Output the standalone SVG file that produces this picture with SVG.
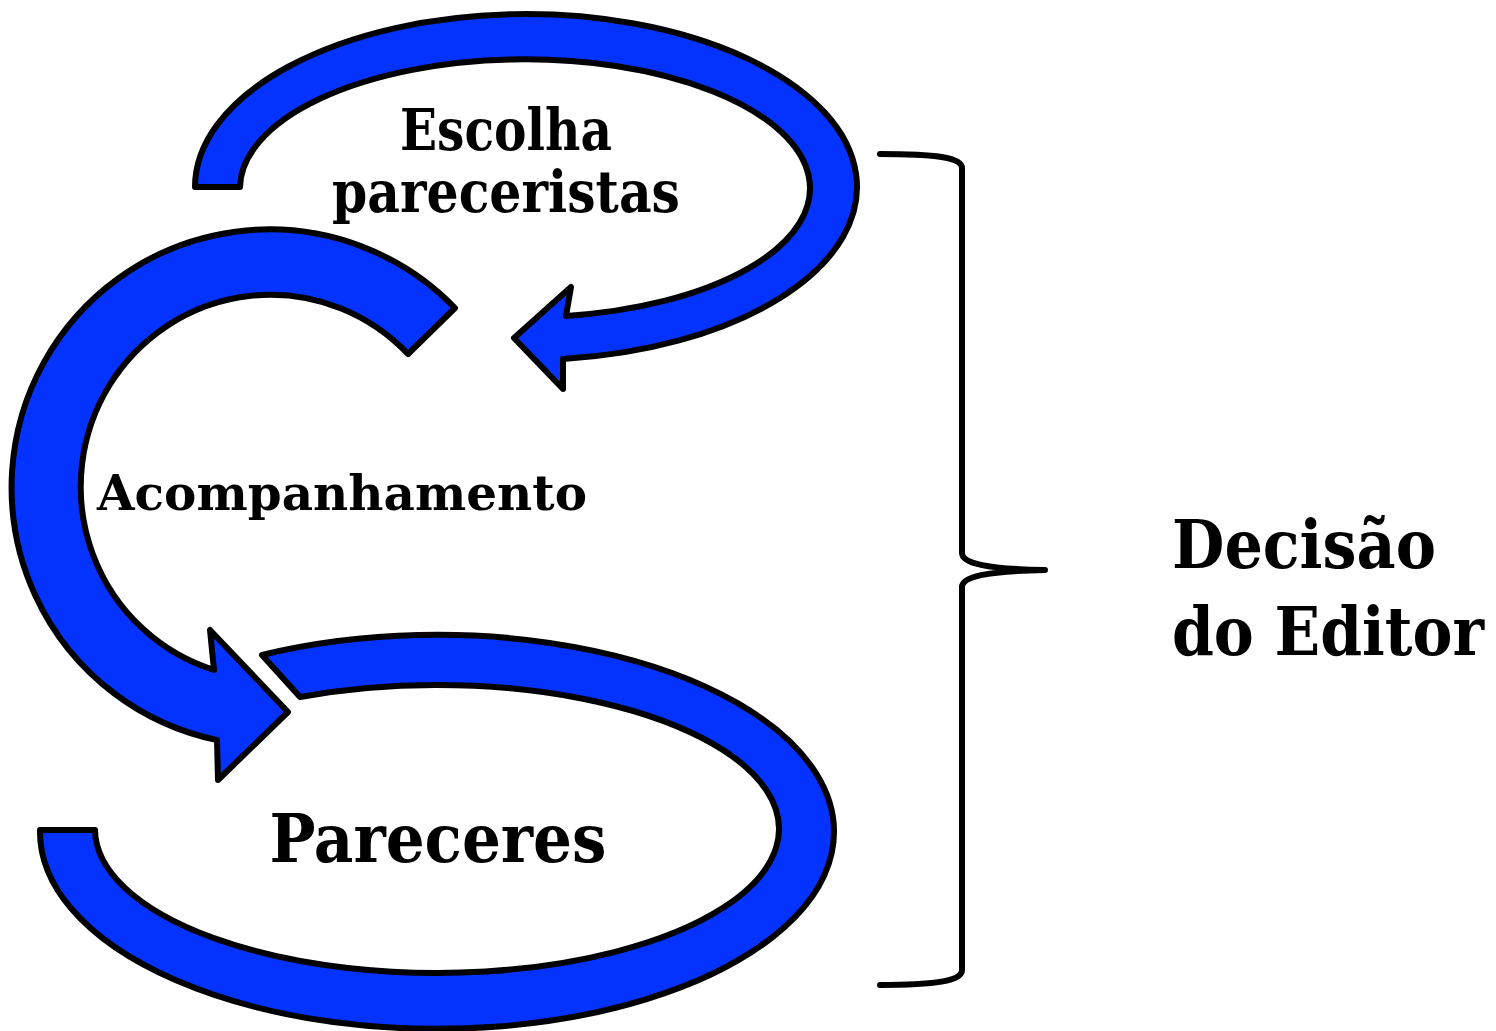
<svg xmlns="http://www.w3.org/2000/svg" width="1496" height="1031" viewBox="0 0 1496 1031">
<style>
.arrow{fill:#0433FF;stroke:#000;stroke-width:6;stroke-linejoin:round}
.brace{fill:none;stroke:#000;stroke-width:6;stroke-linecap:round;stroke-linejoin:round}
.t{font-family:"DejaVu Serif","Liberation Serif",serif;font-weight:bold;fill:#000}
.c{font-stretch:condensed}
</style>
<rect width="1496" height="1031" fill="#fff"/>
<g id="connectors">
<g id="arrow-escolha">
<path class="arrow" d="M195,187 A331,173 0 1 1 563,359 L563,389 L514,338 L571,287 L566,316 A285,129 0 1 0 240,187 Z"/>
</g>
<g id="arrow-acompanhamento">
<path class="arrow" d="M455,308 A258,258 0 1 0 217,740 L218,780 L288,712 L210,630 L214,670 A190,192 0 1 1 408,354 Z"/>
</g>
<g id="arrow-pareceres">
<path class="arrow" d="M262,655 A397,197 0 1 1 40,830 L95,830 A342,144 0 1 0 300,697 Z"/>
</g>
<g id="brace">
<path class="brace" d="M880,154 C935,154 962,157 962,168 L962,553 C962,563 985,569 1045,570 C985,571 962,577 962,587 L962,970 C962,981 935,985 880,985"/>
</g>
</g>
<g id="node-escolha">
<text class="t c" x="506" y="150" font-size="58" text-anchor="middle" textLength="212" lengthAdjust="spacingAndGlyphs">Escolha</text>
<text class="t c" x="506" y="212" font-size="58" text-anchor="middle" textLength="348" lengthAdjust="spacingAndGlyphs">pareceristas</text>
</g>
<g id="node-acompanhamento">
<text class="t" x="342" y="510" font-size="49" text-anchor="middle" textLength="490" lengthAdjust="spacingAndGlyphs">Acompanhamento</text>
</g>
<g id="node-pareceres">
<text class="t c" x="438" y="862" font-size="67" text-anchor="middle" textLength="337" lengthAdjust="spacingAndGlyphs">Pareceres</text>
</g>
<g id="node-decisao">
<text class="t c" x="1172" y="568" font-size="68" textLength="264" lengthAdjust="spacingAndGlyphs">Decisão</text>
<text class="t c" x="1172" y="655" font-size="68" textLength="312" lengthAdjust="spacingAndGlyphs">do Editor</text>
</g>
</svg>
